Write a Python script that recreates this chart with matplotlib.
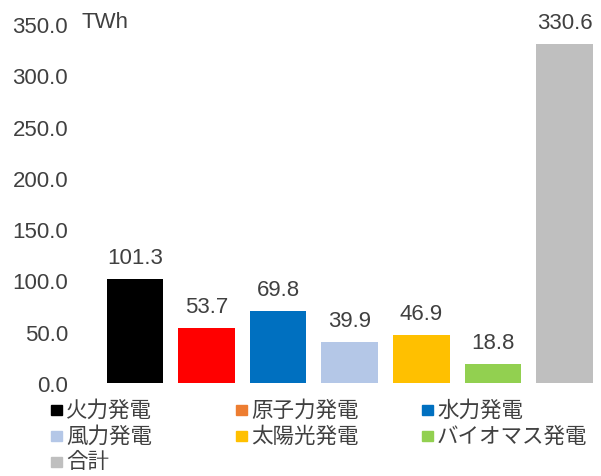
import matplotlib.pyplot as plt
from matplotlib.patches import Rectangle

plt.rcParams['font.family'] = ['Liberation Sans', 'Noto Sans CJK JP', 'DejaVu Sans']

# data
categories = ['火力発電', '原子力発電', '水力発電', '風力発電', '太陽光発電', 'バイオマス発電', '合計']
values = [101.3, 53.7, 69.8, 39.9, 46.9, 18.8, 330.6]
bar_colors = ['#000000', '#FF0000', '#0070C0', '#B4C7E7', '#FFC000', '#92D050', '#BFBFBF']
legend_colors = ['#000000', '#ED7D31', '#0070C0', '#B4C7E7', '#FFC000', '#92D050', '#BFBFBF']
yticks = [0, 50, 100, 150, 200, 250, 300, 350]

txt = '#404040'
W, H = 601, 477

fig = plt.figure(figsize=(6.01, 4.77), dpi=100)
ax = fig.add_axes([96 / W, 1 - 384 / H, 505 / W, 359 / H])

x = range(len(values))
ax.bar(x, values, width=0.79, color=bar_colors)
for xi, v in zip(x, values):
    ax.annotate(f'{v:.1f}', (xi, v), xytext=(0, 8), textcoords='offset points',
                ha='center', va='bottom', fontsize=16, color=txt)

ax.set_ylim(0, 350)
ax.set_xlim(-0.545, 6.51)
ax.set_yticks(yticks)
ax.set_yticklabels([f'{t:.1f}' for t in yticks], fontsize=16, color=txt)
ax.set_xticks([])
ax.tick_params(axis='y', length=0, pad=20)
for s in ax.spines.values():
    s.set_visible(False)

fig.text(82 / W, 1 - 22 / H, 'TWh', ha='left', va='center', fontsize=16, color=txt)

# legend, three per row
col_x = [51, 236, 422]
row_y = [411, 437, 463]
for i, (name, c) in enumerate(zip(categories, legend_colors)):
    r, k = divmod(i, 3)
    x0, y0 = col_x[k], row_y[r]
    fig.patches.append(Rectangle((x0 / W, 1 - (y0 + 5) / H), 11 / W, 10 / H,
                                 color=c, transform=fig.transFigure, figure=fig))
    fig.text((x0 + 15) / W, 1 - y0 / H, name, ha='left', va='center',
             fontsize=15.5, color=txt)

fig.savefig('out.png', dpi=100)
